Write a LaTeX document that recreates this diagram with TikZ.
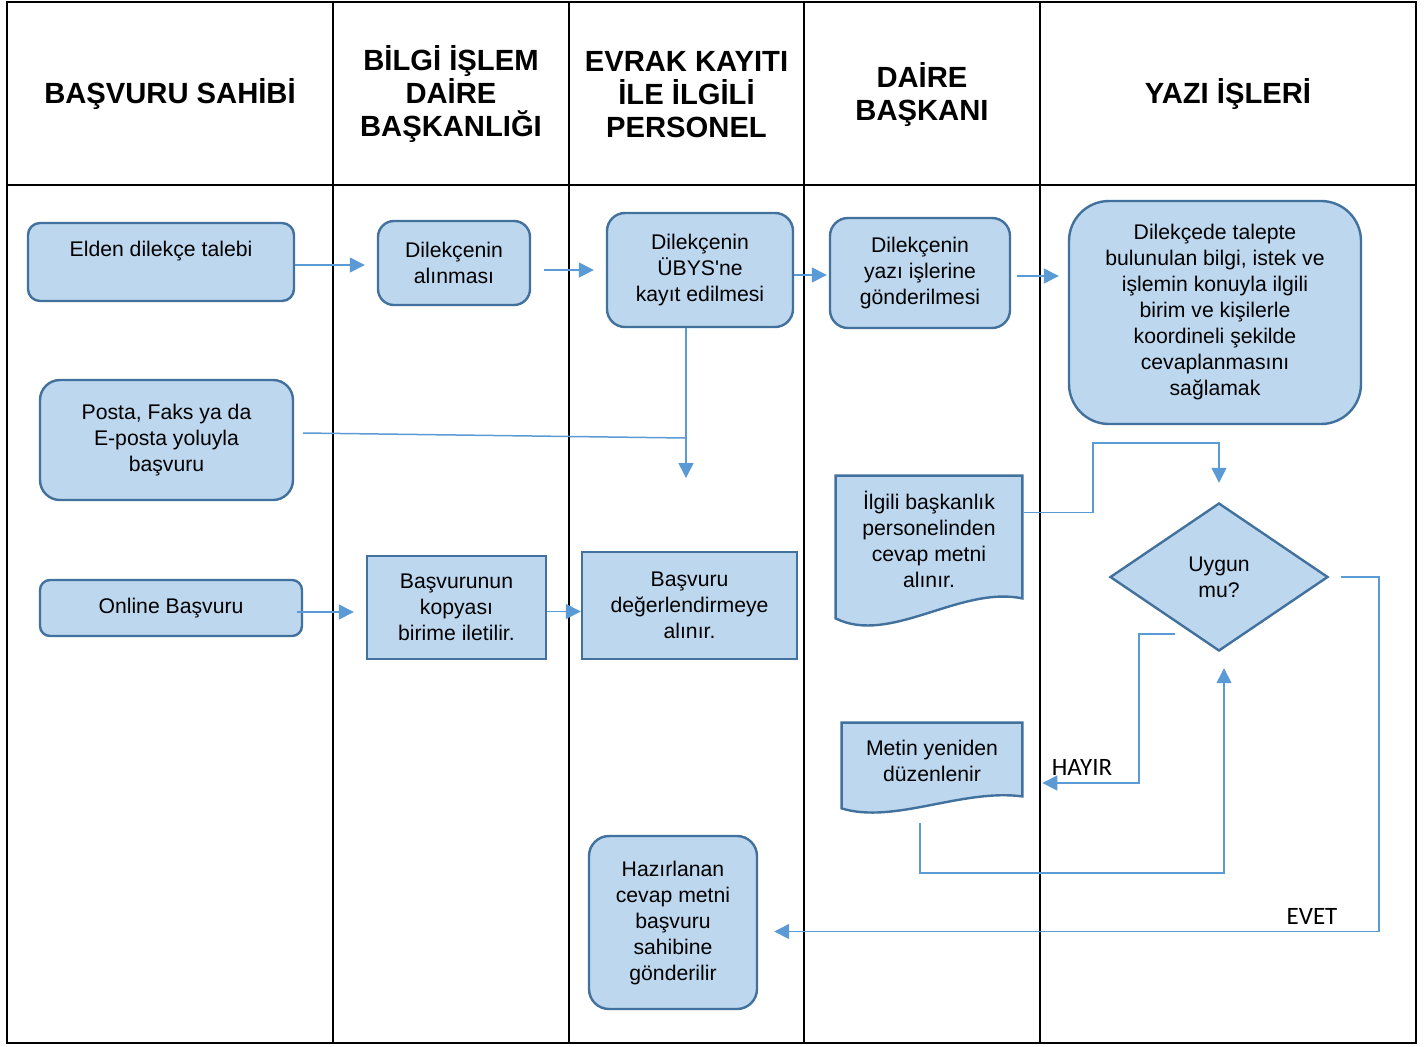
\documentclass[tikz,border=0pt]{standalone}
\usepackage{fontspec}
\setmainfont{Liberation Sans}
\newfontfamily\calibri{Carlito}
\usetikzlibrary{arrows.meta, shapes.geometric, calc, backgrounds}

\definecolor{kutumavi}{HTML}{BDD7EE}
\definecolor{kenar}{HTML}{41719C}
\definecolor{okmavi}{HTML}{5B9BD5}

\tikzset{
    kutu/.style={draw=kenar, fill=kutumavi, line width=1.2pt, rounded corners=8pt, align=center, inner sep=2pt, font=\fontsize{10.6}{13}\selectfont},
    kare/.style={kutu, rounded corners=0pt},
    belge/.style={align=center, inner sep=2pt, font=\fontsize{10.6}{13}\selectfont},
    belgecizgi/.style={draw=kenar, fill=kutumavi, line width=1.2pt},
    karar/.style={diamond, draw=kenar, fill=kutumavi, line width=1.2pt, aspect=1.47, minimum width=109pt, minimum height=74pt, inner sep=0pt, align=center, font=\fontsize{10.6}{13}\selectfont},
    cizgi/.style={draw=okmavi, line width=0.75pt},
    okcizgi/.style={cizgi, -{Triangle[length=7.5pt,width=7.5pt]}},
    etiket/.style={inner sep=0pt, font=\calibri\fontsize{12.5}{15}\selectfont},
    baslik/.style={align=center, font=\bfseries\fontsize{14.6}{16.5}\selectfont}
}

\begin{document}
\begin{tikzpicture}[x=0.5pt, y=-0.5pt]
            \useasboundingbox (0,0) rectangle (1424,1046);

            % tablo
            \draw[line width=1.2pt] (7,2) rectangle (1416,1043);
            \draw[line width=1.2pt] (7,185)--(1416,185) (333,2)--(333,1043) (569,2)--(569,1043) (804,2)--(804,1043) (1040,2)--(1040,1043);

            \foreach \ad/\x/\yazi in {bas1/170/{BAŞVURU SAHİBİ}, bas2/451/{BİLGİ İŞLEM\\DAİRE\\BAŞKANLIĞI}, bas3/686.5/{EVRAK KAYITI\\İLE İLGİLİ\\PERSONEL}, bas4/922/{DAİRE\\BAŞKANI}, bas5/1228/{YAZI İŞLERİ}} {
                \node[baslik] (\ad) at (\x,94.5) {\yazi};
            }

            % kutular
            \node[kutu, minimum width=133pt, minimum height=39pt, rounded corners=6pt] (elden) at (161,262) {Elden dilekçe talebi\\\mbox{}};
            \node[kutu, minimum width=76pt, minimum height=42pt] (alinma) at (454,263) {Dilekçenin\\alınması};
            \node[kutu, minimum width=93pt, minimum height=57pt, rounded corners=9pt] (ubys) at (700,270) {Dilekçenin\\ÜBYS\textquotesingle ne\\kayıt edilmesi};
            \node[kutu, minimum width=90pt, minimum height=55pt, rounded corners=9pt] (yazi) at (920,273) {Dilekçenin\\yazı işlerine\\gönderilmesi};
            \node[kutu, minimum width=146pt, minimum height=111.5pt, rounded corners=20pt] (talep) at (1215,312.5) {Dilekçede talepte\\bulunulan bilgi, istek ve\\işlemin konuyla ilgili\\birim ve kişilerle\\koordineli şekilde\\cevaplanmasını\\sağlamak};
            \node[kutu, minimum width=126.5pt, minimum height=60pt, rounded corners=10pt] (posta) at (166.5,440) {Posta, Faks ya da\\E-posta yoluyla\\başvuru};
            \node[kutu, minimum width=131pt, minimum height=28pt, rounded corners=5pt] (online) at (171,608) {Online Başvuru};
            \node[kare, minimum width=89.5pt, minimum height=51.5pt] (kopya) at (456.5,607.5) {Başvurunun\\kopyası\\birime iletilir.};
            \node[kare, minimum width=107.5pt, minimum height=53.5pt] (deger) at (689.5,605.5) {Başvuru\\değerlendirmeye\\alınır.};
            \node[belge, minimum width=93pt, minimum height=71pt] (ilgili) at (929,547) {İlgili başkanlık\\personelinden\\cevap metni\\alınır.\\[-5pt]\mbox{}};
            \node[karar] (uygun) at (1219,577) {Uygun\\mu?};
            \node[belge, minimum width=90pt, minimum height=42.5pt] (metin) at (932,765.5) {Metin yeniden\\düzenlenir\\[-8pt]\mbox{}};
            \node[kutu, minimum width=84pt, minimum height=86.5pt, rounded corners=10pt] (hazir) at (673,922.5) {Hazırlanan\\cevap metni\\başvuru\\sahibine\\gönderilir};

            \begin{scope}[on background layer]
                \draw[belgecizgi] (ilgili.north west) -- (ilgili.north east) -- ($(ilgili.south east)+(0,-20)$) .. controls ($(ilgili.south)+(31,-33)$) and ($(ilgili.south)+(-39,27)$) .. (ilgili.south west) -- cycle;
                \draw[belgecizgi] (metin.north west) -- (metin.north east) -- ($(metin.south east)+(0,-12)$) .. controls ($(metin.south)+(30,-20)$) and ($(metin.south)+(-38,16)$) .. (metin.south west) -- cycle;
            \end{scope}

            % oklar
            \draw[okcizgi, shorten >=6pt] ($(elden.east)+(0,3)$) -- ($(alinma.west)+(0,2)$);
            \draw[okcizgi, shorten <=6.5pt, shorten >=6pt] (alinma.east |- ubys.west) -- (ubys.west);
            \draw[okcizgi, shorten >=1pt] ($(ubys.east |- yazi.west)+(0,2)$) -- ($(yazi.west)+(0,2)$);
            \draw[okcizgi, shorten <=3pt, shorten >=4.5pt] ($(yazi.east)+(0,3)$) -- ($(yazi.east -| talep.west)+(0,3)$);

            \coordinate (ucbos) at (686,478);
            \draw[okcizgi] ([xshift=-7pt]ubys.south) -- (ucbos);
            \draw[cizgi] ($(posta.east)+(9,-7)$) -- ($(ucbos)+(0,-40)$);

            \draw[okcizgi, shorten >=6pt] ($(online.east)+(-6,4)$) -- ($(online.east -| kopya.west)+(0,4)$);
            \draw[okcizgi] ($(kopya.east)+(0,4)$) -- ($(kopya.east -| deger.west)+(0,4)$);

            \draw[okcizgi, shorten >=9.5pt] ($(ilgili.north east)+(2,37)$) -| ($(uygun.north)+(-126,-59)$) -| (uygun.north);
            \draw[okcizgi, shorten <=6pt, shorten >=8pt] (uygun.east) -- ++(50,0) |- ($(hazir.east)+(0,9)$);
            \draw[okcizgi, shorten >=10pt] ($(uygun.south)+(-44,-18)$) -- ++(-36,0) |- ($(metin.east)+(0,17.5)$);
            \draw[okcizgi, shorten >=8pt] ($(metin.south)+(-12,15)$) |- ($(uygun.south)+(5,221)$) -- ($(uygun.south)+(5,0)$);

            \node[etiket] (hayir) at (1082,767) {HAYIR};
            \node[etiket] (evet) at (1312,916) {EVET};

        \end{tikzpicture}
\end{document}
